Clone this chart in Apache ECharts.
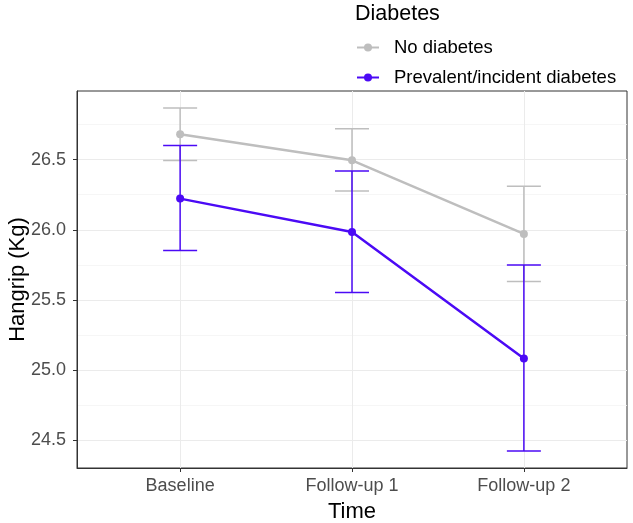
<!DOCTYPE html>
<html><head><meta charset="utf-8">
<script src="https://cdn.jsdelivr.net/npm/echarts@6/dist/echarts.min.js"></script>
<style>html,body{margin:0;padding:0;background:#fff}#c{width:633px;height:523px}</style>
</head><body><div id="c"></div>
<script>
const categories = ["Baseline", "Follow-up 1", "Follow-up 2"];
const seriesNames = ["No diabetes", "Prevalent/incident diabetes"];
const noDiabMean = [26.68, 26.495, 25.97];
const noDiabLow  = [26.493, 26.276, 25.631];
const noDiabHigh = [26.867, 26.72, 26.31];
const diabMean = [26.222, 25.984, 25.083];
const diabLow  = [25.852, 25.553, 24.424];
const diabHigh = [26.60, 26.419, 25.749];
const yTicks = [24.5, 25.0, 25.5, 26.0, 26.5];
const yMinor = [24.75, 25.25, 25.75, 26.25, 26.75];

const colors = ["#BEBEBE", "#4B0AF5"];
const xs = categories.map((c, i) => i + 1);

function errSeries(low, high, color, z) {
  return {
    type: 'custom', z: z, silent: true,
    data: xs.map((x, i) => [x, low[i], high[i]]),
    renderItem: function (params, api) {
      const lo = api.coord([api.value(0), api.value(1)]);
      const hi = api.coord([api.value(0), api.value(2)]);
      const hw = 17;
      const st = { stroke: color, lineWidth: 1.5 };
      return { type: 'group', children: [
        { type: 'line', shape: { x1: lo[0], y1: lo[1], x2: hi[0], y2: hi[1] }, style: st },
        { type: 'line', shape: { x1: lo[0] - hw, y1: lo[1], x2: lo[0] + hw, y2: lo[1] }, style: st },
        { type: 'line', shape: { x1: hi[0] - hw, y1: hi[1], x2: hi[0] + hw, y2: hi[1] }, style: st }
      ]};
    }
  };
}
function lineSeries(name, vals, color, z) {
  return {
    name: name, type: 'line', z: z,
    data: xs.map((x, i) => [x, vals[i]]),
    symbol: 'circle', symbolSize: 8,
    lineStyle: { color: color, width: 2.5 },
    itemStyle: { color: color },
    emphasis: { disabled: true }
  };
}

const chart = echarts.init(document.getElementById('c'), null, { renderer: 'canvas' });
chart.setOption({
  animation: false,
  textStyle: { fontFamily: 'Liberation Sans, Arial, sans-serif' },
  title: { text: 'Diabetes', left: 355, top: 3, padding: 0, textStyle: { fontSize: 21.5, fontWeight: 'normal', color: '#000' } },
  legend: {
    orient: 'vertical', left: 356, top: 38, itemGap: 11, padding: 0,
    itemWidth: 22, itemHeight: 10,
    textStyle: { fontSize: 18.5, lineHeight: 18, color: '#000', padding: [0, 0, 0, 10] },
    data: seriesNames
  },
  grid: { left: 77, right: 6, top: 91, bottom: 55, show: true, borderColor: '#333', borderWidth: 1,
          containLabel: false, outerBoundsMode: 'none' },
  xAxis: [{
    type: 'value', min: 0.4, max: 3.6,
    name: 'Time', nameLocation: 'middle', nameGap: 33, nameMoveOverlap: false,
    nameTextStyle: { fontSize: 22, color: '#000' },
    axisLine: { show: true, lineStyle: { color: '#333' } },
    axisTick: { show: true, length: 4, lineStyle: { color: '#333' }, customValues: xs },
    axisLabel: { fontSize: 18, color: '#4d4d4d', margin: 9, customValues: xs, formatter: v => categories[Math.round(v) - 1] },
    splitLine: { show: true, lineStyle: { color: '#ebebeb', width: 1 } }
  }],
  yAxis: [{
    type: 'value', min: 24.302, max: 26.989,
    name: 'Hangrip (Kg)', nameLocation: 'middle', nameGap: 48, nameMoveOverlap: false,
    nameTextStyle: { fontSize: 22, color: '#000' },
    axisLine: { show: true, lineStyle: { color: '#333' } },
    axisTick: { show: true, length: 4, lineStyle: { color: '#333' }, customValues: yTicks },
    axisLabel: { fontSize: 18, color: '#4d4d4d', margin: 11, customValues: yTicks, formatter: v => v.toFixed(1) },
    splitLine: { show: true, lineStyle: { color: '#ebebeb', width: 1 } }
  }, {
    type: 'value', min: 24.302, max: 26.989, position: 'left',
    axisLine: { show: false }, axisLabel: { show: false },
    axisTick: { show: false, customValues: yMinor },
    splitLine: { show: true, lineStyle: { color: '#f4f4f4', width: 0.8 } }
  }],
  series: [
    errSeries(noDiabLow, noDiabHigh, colors[0], 2),
    lineSeries(seriesNames[0], noDiabMean, colors[0], 3),
    errSeries(diabLow, diabHigh, colors[1], 4),
    lineSeries(seriesNames[1], diabMean, colors[1], 5)
  ]
});
</script></body></html>
